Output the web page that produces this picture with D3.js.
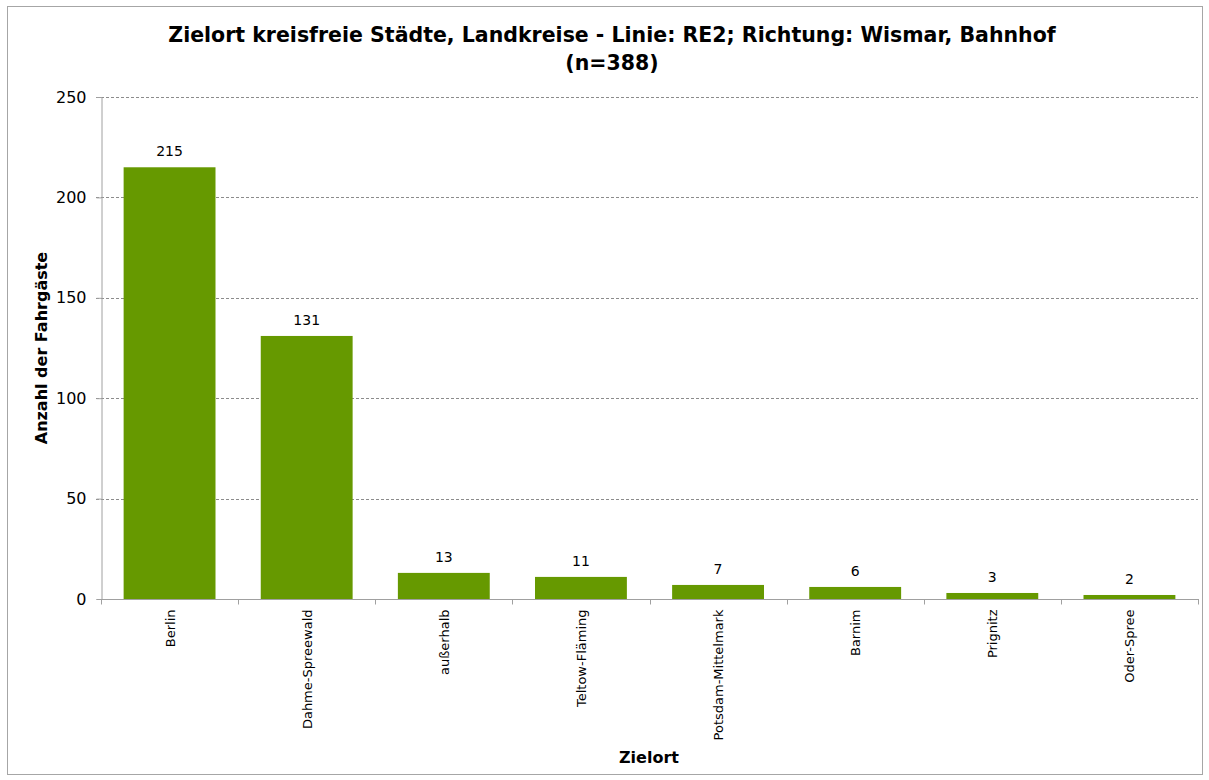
<!DOCTYPE html>
<html><head><meta charset="utf-8">
<script src="https://cdn.jsdelivr.net/npm/d3@7"></script>
<style>body{margin:0;background:#fff}svg{display:block}</style>
</head><body>
<script>
const categories = ["Berlin","Dahme-Spreewald","außerhalb","Teltow-Fläming","Potsdam-Mittelmark","Barnim","Prignitz","Oder-Spree"];
const values = [215,131,13,11,7,6,3,2];
const yTicks = [0,50,100,150,200,250];
const titleLines = ["Zielort kreisfreie Städte, Landkreise - Linie: RE2; Richtung: Wismar, Bahnhof","(n=388)"];
const yTitle = "Anzahl der Fahrgäste";
const xTitle = "Zielort";

const W=1209,H=780;
const svg=d3.select("body").append("svg").attr("width",W).attr("height",H);
const font="DejaVu Sans, Tahoma, sans-serif";
svg.append("rect").attr("x",7.5).attr("y",6.5).attr("width",1195).attr("height",768).attr("fill","#fff").attr("stroke","#a6a6a6");

const m={l:101,r:1198,t:97,b:599};
const x=d3.scaleBand().domain(categories).range([m.l,m.r]).paddingInner(0.33).paddingOuter(0.165);
const y=d3.scaleLinear().domain([0,250]).range([m.b,m.t]);

// grid
svg.append("g").selectAll("line").data(yTicks.filter(d=>d>0)).join("line")
 .attr("x1",m.l-5).attr("x2",m.r).attr("y1",d=>Math.round(y(d))+0.5).attr("y2",d=>Math.round(y(d))+0.5)
 .attr("stroke","#8c8c8c").attr("stroke-dasharray","3,2");

// y axis
const ya=svg.append("g").attr("transform",`translate(${m.l+0.5},0)`).call(d3.axisLeft(y).tickValues(yTicks).tickSize(5).tickPadding(10));
ya.select(".domain").attr("stroke","#a0a0a0");
ya.selectAll(".tick line").attr("stroke","#a0a0a0");
ya.selectAll("text").attr("font-family",font).attr("font-size",16).attr("fill","#000");

// bars
svg.append("g").selectAll("rect").data(values).join("rect")
 .attr("x",(d,i)=>x(categories[i])).attr("width",x.bandwidth())
 .attr("y",d=>y(d)).attr("height",d=>y(0)-y(d)).attr("fill","#669900");

// x axis
const xa=svg.append("g").attr("transform",`translate(0,${m.b+0.5})`);
xa.append("line").attr("x1",m.l).attr("x2",m.r+1).attr("stroke","#a0a0a0");
const bounds=d3.range(categories.length+1).map(i=>m.l+i*(m.r-m.l)/categories.length);
xa.selectAll(".tk").data(bounds).join("line").attr("class","tk")
 .attr("x1",d=>Math.round(d)+0.5).attr("x2",d=>Math.round(d)+0.5).attr("y1",0).attr("y2",5).attr("stroke","#a0a0a0");
xa.selectAll("text").data(categories).join("text")
 .attr("transform",d=>`translate(${x(d)+x.bandwidth()/2+5},10) rotate(-90)`)
 .attr("text-anchor","end").attr("font-family",font).attr("font-size",13).text(d=>d);

// value labels
svg.append("g").selectAll("text").data(values).join("text")
 .attr("x",(d,i)=>x(categories[i])+x.bandwidth()/2).attr("y",d=>y(d)-11)
 .attr("text-anchor","middle").attr("font-family",font).attr("font-size",14).text(d=>d);

// titles
svg.append("g").selectAll("text").data(titleLines).join("text")
 .attr("x",612).attr("y",(d,i)=>42+i*28).attr("text-anchor","middle")
 .attr("font-family",font).attr("font-weight","bold").attr("font-size",20.5).text(d=>d);
svg.append("text").attr("transform",`translate(47,348) rotate(-90)`).attr("text-anchor","middle")
 .attr("font-family",font).attr("font-weight","bold").attr("font-size",16).text(yTitle);
svg.append("text").attr("x",649).attr("y",763).attr("text-anchor","middle")
 .attr("font-family",font).attr("font-weight","bold").attr("font-size",16).text(xTitle);
</script>
</body></html>
